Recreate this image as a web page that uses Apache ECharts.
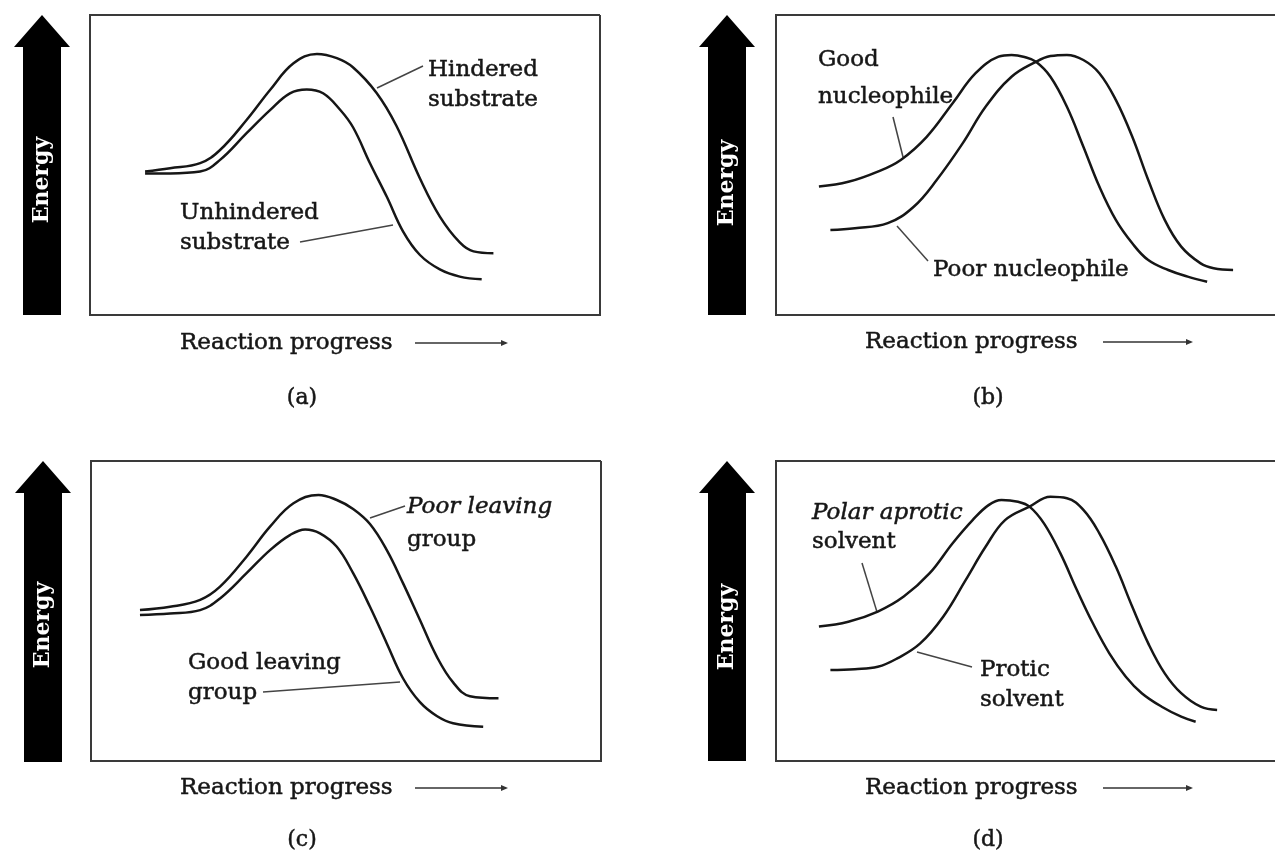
<!DOCTYPE html>
<html><head><meta charset="utf-8">
<script src="https://cdn.jsdelivr.net/npm/echarts@6/dist/echarts.min.js"></script>
<style>html,body{margin:0;padding:0;background:#fff}#c{width:1275px;height:853px}</style>
</head><body><div id="c"></div>
<script>
// ---------- data (progress 0-100, energy 0-100) ----------
const panelTags = ['(a)', '(b)', '(c)', '(d)'];
const energyTitle = 'Energy';
const progressTitle = 'Reaction progress';

// (a)
const hinderedProgress   = [10.8,15.7,21.6,25.5,30.7,35.3,39.9,44.5,48.4,51.6,56.2,60.1,64.7,68.6,72.5,75.2,79.1];
const hinderedEnergy     = [47.8,48.9,50.6,55.0,65.0,75.0,83.9,87.0,85.6,82.5,74.0,63.0,45.5,32.8,24.2,21.2,20.6];
const unhinderedProgress = [10.8,15.7,21.6,25.5,30.7,35.3,39.2,42.5,45.7,49.0,51.6,54.9,58.2,61.4,64.7,68.6,72.5,76.8];
const unhinderedEnergy   = [47.2,47.2,47.8,51.7,60.6,68.3,73.9,75.2,73.9,68.5,62.5,50.6,39.4,27.8,20.0,15.2,12.8,11.9];
// (b)
const goodNucProgress = [8.6,14.5,20.4,25.0,30.2,35.4,40.0,44.6,47.2,49.8,52.1,55.0,58.3,61.6,64.8,68.1,71.4,74.6,78.6,82.5,86.4];
const goodNucEnergy   = [42.8,44.4,47.8,51.7,59.4,70.6,80.6,86.1,86.7,86.0,84.4,79.4,69.4,56.1,42.8,31.7,23.9,18.3,15.0,12.8,11.1];
const poorNucProgress = [10.9,15.8,22.4,27.6,32.2,37.4,42.0,47.2,52.1,55.0,58.3,61.6,64.8,68.1,71.4,74.6,77.9,81.2,85.1,87.7,91.6];
const poorNucEnergy   = [28.3,28.9,30.6,36.1,45.0,57.2,69.4,79.4,84.4,86.3,86.7,85.0,80.6,71.7,59.4,45.0,31.7,22.8,17.2,15.6,15.0];
// (c)
const poorLGProgress = [9.6,15.5,21.4,25.3,30.5,35.1,39.7,44.6,48.2,51.4,54.7,58.0,61.2,64.5,67.8,71.0,74.3,79.9];
const poorLGEnergy   = [50.3,51.4,53.7,58.1,68.1,78.1,85.9,88.7,87.0,84.0,79.0,70.3,59.2,47.0,34.8,26.2,21.6,20.9];
const goodLGProgress = [9.6,15.5,21.4,25.3,30.5,35.1,39.0,42.0,44.9,48.2,51.4,54.7,58.0,61.2,64.5,67.8,71.0,76.9];
const goodLGEnergy   = [48.7,49.2,50.3,54.2,62.6,70.3,75.3,77.2,75.9,71.4,62.6,51.4,39.2,27.5,19.6,15.0,12.6,11.4];
// (d)
const aproticProgress = [8.6,14.5,20.4,25.6,30.8,35.4,39.4,42.6,45.2,48.5,50.8,53.7,57.0,60.3,63.5,66.8,70.1,73.3,77.3,81.2,84.1];
const aproticEnergy   = [44.8,46.4,49.8,54.8,62.6,72.6,80.3,85.3,87.0,86.4,84.8,79.2,69.2,57.0,45.9,35.9,28.1,22.6,18.1,14.8,13.1];
const proticProgress  = [10.9,15.8,20.4,24.3,28.9,33.5,38.0,42.0,45.9,50.8,55.0,58.3,61.6,64.8,68.1,71.4,74.6,77.9,81.2,85.1,88.4];
const proticEnergy    = [30.3,30.6,31.4,34.2,39.2,48.1,60.3,71.4,80.3,84.8,88.1,87.6,83.7,75.9,64.8,51.4,39.2,29.2,22.6,18.1,17.0];

const labelsA = ['Hindered', 'substrate', 'Unhindered', 'substrate'];
const labelsB = ['Good', 'nucleophile', 'Poor nucleophile'];
const labelsC = ['Poor leaving', 'group', 'Good leaving', 'group'];
const labelsD = ['Polar aprotic', 'solvent', 'Protic', 'solvent'];

// ---------- layout ----------
const zip = (xs, ys) => xs.map((x, i) => [x, ys[i]]);
const INK = '#161616';
const FONT = '"DejaVu Serif", serif';

const panels = [
  { grid: {left: 90, top: 15, width: 510, height: 300}, openRight: false, cx: 42, top: 15, bot: 315, eY: 180, rpX: 180, rpY: 343, ar: [415, 508], tagX: 302, tagY: 398,
    curves: [zip(hinderedProgress, hinderedEnergy), zip(unhinderedProgress, unhinderedEnergy)],
    texts: [[428, 70, labelsA[0]], [428, 100, labelsA[1]], [180, 213, labelsA[2]], [180, 243, labelsA[3]]],
    leaders: [[377, 88, 423, 66], [300, 242, 393, 225]] },
  { grid: {left: 776, top: 15, width: 510, height: 300}, openRight: true, cx: 727, top: 15, bot: 315, eY: 183, rpX: 865, rpY: 342, ar: [1103, 1193], tagX: 988, tagY: 398,
    curves: [zip(goodNucProgress, goodNucEnergy), zip(poorNucProgress, poorNucEnergy)],
    texts: [[818, 60, labelsB[0]], [818, 97, labelsB[1]], [933, 270, labelsB[2]]],
    leaders: [[893, 117, 903, 157], [897, 226, 928, 261]] },
  { grid: {left: 91, top: 461, width: 510, height: 300}, openRight: false, cx: 43, top: 461, bot: 762, eY: 625, rpX: 180, rpY: 788, ar: [415, 508], tagX: 302, tagY: 840,
    curves: [zip(poorLGProgress, poorLGEnergy), zip(goodLGProgress, goodLGEnergy)],
    texts: [[407, 507, labelsC[0], true], [407, 540, labelsC[1]], [188, 663, labelsC[2]], [188, 693, labelsC[3]]],
    leaders: [[370, 518, 405, 506], [263, 692, 400, 682]] },
  { grid: {left: 776, top: 461, width: 510, height: 300}, openRight: true, cx: 727, top: 461, bot: 761, eY: 627, rpX: 865, rpY: 788, ar: [1103, 1193], tagX: 988, tagY: 840,
    curves: [zip(aproticProgress, aproticEnergy), zip(proticProgress, proticEnergy)],
    texts: [[812, 513, labelsD[0], true], [812, 542, labelsD[1]], [980, 670, labelsD[2]], [980, 700, labelsD[3]]],
    leaders: [[862, 563, 877, 612], [917, 652, 972, 667]] }
];

const grids = [], xAxes = [], yAxes = [], series = [], graphic = [];
const txt = (s, x, y, font, align) => ({type: 'text', style: {text: s, x, y, fill: INK, font,
  textAlign: align, textVerticalAlign: 'middle', align, verticalAlign: 'middle',
  stroke: INK, lineWidth: 0.5}});

panels.forEach((p, i) => {
  grids.push(Object.assign({show: false}, p.grid));
  xAxes.push({type: 'value', gridIndex: i, min: 0, max: 100, show: false});
  yAxes.push({type: 'value', gridIndex: i, min: 0, max: 100, show: false});
  p.curves.forEach(d => series.push({
    type: 'line', xAxisIndex: i, yAxisIndex: i, data: d, smooth: 0.4, symbol: 'none',
    lineStyle: {color: INK, width: 2.5}, silent: true, animation: false
  }));
  // box
  const g = p.grid, L = g.left, T = g.top, B = g.top + g.height, R = g.left + g.width;
  const pts = p.openRight ? [[1276, T], [L, T], [L, B], [1276, B]] : [[R, T], [L, T], [L, B], [R, B], [R, T]];
  graphic.push({type: 'polyline', shape: {points: pts}, style: {stroke: '#3a3a3a', lineWidth: 2, fill: null}});
  // energy arrow
  const hw = 28, sw = 19, hb = p.top + 32;
  graphic.push({type: 'polygon', shape: {points: [[p.cx, p.top], [p.cx + hw, hb], [p.cx + sw, hb], [p.cx + sw, p.bot], [p.cx - sw, p.bot], [p.cx - sw, hb], [p.cx - hw, hb]]}, style: {fill: '#000'}});
  graphic.push({type: 'text', x: p.cx, y: p.eY, rotation: Math.PI / 2,
    style: {text: energyTitle, x: 0, y: 0, fill: '#fff', font: 'bold 22px ' + FONT, textAlign: 'center', textVerticalAlign: 'middle', align: 'center', verticalAlign: 'middle'}});
  // reaction progress
  graphic.push(txt(progressTitle, p.rpX, p.rpY, '23px ' + FONT, 'left'));
  graphic.push({type: 'line', shape: {x1: p.ar[0], y1: p.rpY, x2: p.ar[1] - 2, y2: p.rpY}, style: {stroke: '#333', lineWidth: 1.6}});
  graphic.push({type: 'polygon', shape: {points: [[p.ar[1], p.rpY], [p.ar[1] - 7, p.rpY - 3], [p.ar[1] - 7, p.rpY + 3]]}, style: {fill: '#333'}});
  // panel tag
  graphic.push(txt(panelTags[i], p.tagX, p.tagY, '22px ' + FONT, 'center'));
  // annotations
  p.texts.forEach(t => graphic.push(txt(t[2], t[0], t[1], (t[3] ? 'italic ' : '') + '23px ' + FONT, 'left')));
  p.leaders.forEach(l => graphic.push({type: 'line', shape: {x1: l[0], y1: l[1], x2: l[2], y2: l[3]}, style: {stroke: '#444', lineWidth: 1.5}}));
});

const chart = echarts.init(document.getElementById('c'), null, {renderer: 'canvas'});
chart.setOption({animation: false, backgroundColor: '#fff', grid: grids, xAxis: xAxes, yAxis: yAxes, series, graphic});
</script></body></html>
